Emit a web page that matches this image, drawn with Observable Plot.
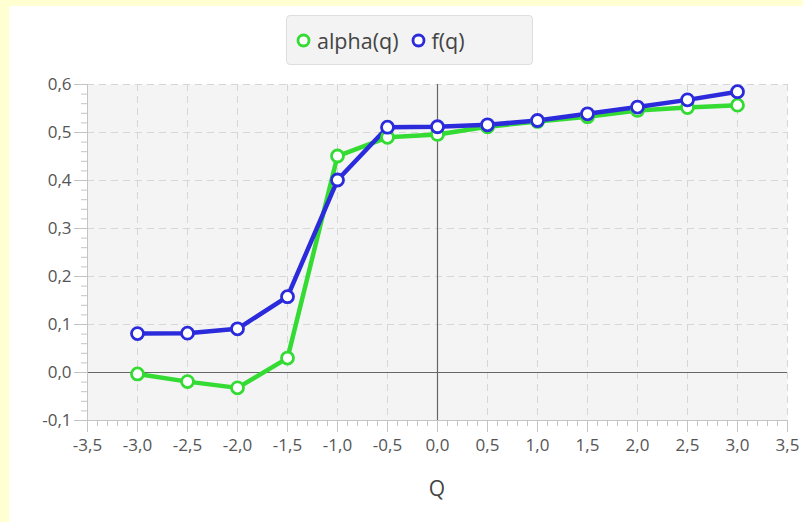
<!DOCTYPE html>
<html>
<head>
<meta charset="utf-8">
<script src="https://cdn.jsdelivr.net/npm/d3@7"></script>
<script src="https://cdn.jsdelivr.net/npm/@observablehq/plot@0.6"></script>
<style>
  html, body { margin: 0; padding: 0; background: #ffffd2; }
  #wrap { position: relative; width: 803px; height: 522px; overflow: hidden; font-family: "Open Sans", "Noto Sans", sans-serif; }
  #panel { position: absolute; left: 9px; top: 6px; right: 0; bottom: 0; background: #ffffff; }
  #chart { position: absolute; left: 0; top: 0; }
  #chart svg text { font-size: 17px !important; font-family: "Open Sans", "Noto Sans", sans-serif; }
  #legend { position: absolute; left: 286px; top: 15px; width: 247px; height: 50px; background: #f3f3f3;
            border: 1px solid #dedede; border-radius: 4px; box-sizing: border-box;
            display: flex; align-items: center; padding-left: 9px; font-size: 21.5px; color: #444; }
  #legend .item { display: flex; align-items: center; margin-right: 12px; }
  #legend svg { margin-right: 6px; }
  #xlabel { position: absolute; left: 387px; width: 100px; text-align: center; top: 474px; font-size: 21px; color: #444; }
</style>
</head>
<body>
<div id="wrap">
  <div id="panel"></div>
  <div id="chart"></div>
  <div id="legend"></div>
  <div id="xlabel">Q</div>
</div>
<script>
const q = [-3.0, -2.5, -2.0, -1.5, -1.0, -0.5, 0.0, 0.5, 1.0, 1.5, 2.0, 2.5, 3.0];
const alphaQ = [-0.003, -0.019, -0.032, 0.030, 0.451, 0.490, 0.496, 0.512, 0.523, 0.533, 0.546, 0.552, 0.557];
const fQ = [0.081, 0.082, 0.091, 0.158, 0.401, 0.511, 0.512, 0.516, 0.525, 0.539, 0.553, 0.568, 0.585];
const seriesNames = ["alpha(q)", "f(q)"];
const seriesColors = ["#33db33", "#2b2bdc"];
const xTicks = [-3.5, -3.0, -2.5, -2.0, -1.5, -1.0, -0.5, 0.0, 0.5, 1.0, 1.5, 2.0, 2.5, 3.0, 3.5];
const yTicks = [-0.1, 0.0, 0.1, 0.2, 0.3, 0.4, 0.5, 0.6];
const xMinor = d3.range(-35, 36).map(v => v / 10);
const yMinor = d3.range(-10, 61, 2).map(v => v / 100);

const fmt = d => (Math.abs(d) < 1e-9 ? 0 : d).toFixed(1).replace(".", ",");

const rows = [];
q.forEach((x, i) => {
  rows.push({q: x, v: alphaQ[i], s: seriesNames[0]});
});
q.forEach((x, i) => {
  rows.push({q: x, v: fQ[i], s: seriesNames[1]});
});

const tickColor = "#c4c4c4";
const chart = Plot.plot({
  width: 803,
  height: 522,
  marginLeft: 87,
  marginRight: 16,
  marginTop: 84,
  marginBottom: 102,
  style: {background: "transparent", fontFamily: "'Open Sans', 'Noto Sans', sans-serif", color: "#555"},
  x: {domain: [-3.5, 3.5], label: null},
  y: {domain: [-0.1, 0.6], label: null},
  color: {domain: seriesNames, range: seriesColors},
  marks: [
    Plot.frame({fill: "#f4f4f4", stroke: null}),
    Plot.gridX(xTicks, {stroke: "#d6d6d6", strokeOpacity: 1, strokeDasharray: "7,5", strokeWidth: 1}),
    Plot.gridY(yTicks, {stroke: "#d6d6d6", strokeOpacity: 1, strokeDasharray: "7,5", strokeWidth: 1}),
    Plot.ruleY([0], {stroke: "#666", strokeWidth: 1.2}),
    Plot.ruleX([0], {stroke: "#666", strokeWidth: 1.2}),
    Plot.ruleX([-3.5], {stroke: tickColor}),
    Plot.ruleY([-0.1], {stroke: tickColor}),
    Plot.axisX(xMinor, {tickSize: 6, stroke: tickColor, text: null, strokeOpacity: 1, label: null}),
    Plot.axisY(yMinor, {tickSize: 6, stroke: tickColor, text: null, strokeOpacity: 1, label: null}),
    Plot.axisX(xTicks, {tickSize: 12, tickPadding: 6, stroke: tickColor, strokeOpacity: 1, fill: "#555", tickFormat: fmt, label: null}),
    Plot.axisY(yTicks, {tickSize: 13, tickPadding: 3, stroke: tickColor, strokeOpacity: 1, fill: "#555", tickFormat: fmt, label: null}),
    Plot.line(rows, {x: "q", y: "v", z: "s", stroke: "s", strokeWidth: 4.5, curve: "linear"}),
    Plot.dot(rows, {x: "q", y: "v", stroke: "s", fill: "white", r: 6, strokeWidth: 2.8})
  ]
});
document.getElementById("chart").appendChild(chart);

const legend = document.getElementById("legend");
seriesNames.forEach((name, i) => {
  const item = document.createElement("div");
  item.className = "item";
  item.innerHTML = `<svg width="15" height="15"><circle cx="7.5" cy="7.5" r="5.5" fill="white" stroke="${seriesColors[i]}" stroke-width="2.8"/></svg><span>${name}</span>`;
  legend.appendChild(item);
});
</script>
</body>
</html>
